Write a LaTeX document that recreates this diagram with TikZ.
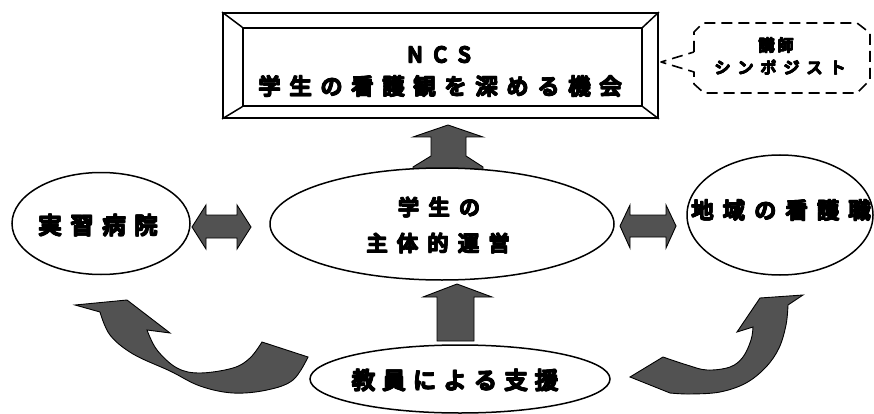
\documentclass[tikz,border=0pt]{standalone}
\usepackage{fontspec}
\newfontfamily\jp[FakeBold=4]{Noto Sans CJK JP}
\usetikzlibrary{shapes.geometric}
\newlength\chsp
\newlength\hvoff
\newsavebox\hvbox
\def\spacedtext#1{\sptfirst#1\relax}
\def\sptfirst#1{#1\sptnext}
\def\sptnext#1{\ifx#1\relax\else\hspace{\chsp}#1\expandafter\sptnext\fi}
\newcommand\heavy[1]{\sbox\hvbox{#1}%
  \rlap{\usebox\hvbox}\rlap{\hspace{\hvoff}\usebox\hvbox}%
  \rlap{\raisebox{\hvoff}{\usebox\hvbox}}\rlap{\hspace{0.5\hvoff}\raisebox{0.5\hvoff}{\usebox\hvbox}}%
  \hspace{\hvoff}\raisebox{\hvoff}{\usebox\hvbox}}
\newcommand\jptext[3]{\jp\fontsize{#1}{#1}\selectfont\setlength\chsp{#2}\setlength\hvoff{0.045em}\heavy{\spacedtext{#3}}}
\tikzset{
  ell/.style={draw, line width=1.5pt, ellipse, inner sep=0pt, fill=white},
  blk/.style={fill=black!68, draw=black, line width=0.9pt, line join=miter},
  lbl/.style={inner sep=0pt, text=black},
  bevel/.style={draw, line width=1.8pt, rectangle, inner sep=0pt},
  bubble/.style={draw, line width=1.6pt, dash pattern=on 11pt off 6pt, line join=round}
}
\begin{document}
\begin{tikzpicture}[x=1pt,y=-1pt]
\path[fill=white, use as bounding box] (0,0) rectangle (874,414);

% top box with bevel
\node (ncs) [bevel, fill=white, minimum width=435pt, minimum height=105pt] at (440.5,65.5) {};
\node (ncsin) [bevel, line width=1.5pt, minimum width=399pt, minimum height=78pt] at (442.5,67) {};
\draw[line width=1.5pt] (ncs.north west) -- (ncsin.north west)
  (ncs.south west) -- (ncsin.south west)
  (ncs.north east) -- (ncsin.north east)
  (ncs.south east) -- (ncsin.south east);
\node (ncsa) [lbl] at (439,54.5) {\jptext{21}{11pt}{NCS}};
\node (ncsb) [lbl] at (440,86) {\jptext{22}{9pt}{学生の看護観を深める機会}};

% dashed callout
\draw[bubble] (694,52) -- (694,32) -- (703,23) -- (857,23) -- (870,33) -- (870,80)
  -- (857,93) -- (704,93) -- (694,84) -- (694,72) -- (661,62) -- cycle;
\node (lect) [lbl] at (776,45) {\jptext{16}{3pt}{講師}};
\node (symp) [lbl] at (780,67) {\jptext{16}{7pt}{シンポジスト}};

% block arrows
\path[blk] (448,125) -- (483,137) -- (466,137) -- (466,156) -- (483,167) -- (483,176)
  -- (413,176) -- (413,167) -- (431,156) -- (431,137) -- (413,137) -- cycle;
\path[blk] (192,227) -- (206,205) -- (206,215) -- (237,215) -- (237,205) -- (251,227)
  -- (237,249) -- (237,238) -- (206,238) -- (206,249) -- cycle;
\path[blk] (620,226) -- (630,205) -- (630,215) -- (666,215) -- (666,205) -- (676,226)
  -- (666,248) -- (666,237) -- (630,237) -- (630,248) -- cycle;
\path[blk] (457,284) -- (492,297) -- (474,297) -- (474,341) -- (437,341) -- (437,297)
  -- (423,297) -- cycle;
% curved arrows
\path[blk] (75,305) -- (127,300) -- (170,333) -- (147,330)
  -- plot[smooth, tension=0.6] coordinates {(147,330) (157,350) (177,368) (200,373) (233,368) (250,358) (262,342)}
  -- (308,357)
  -- plot[smooth, tension=0.6] coordinates {(308,357) (293,380) (267,390) (233,393) (200,386) (170,371) (133,354) (110,335) (100,312)}
  -- cycle;
\path[blk] (630,377) -- (663,357)
  -- plot[smooth, tension=0.6] coordinates {(663,357) (687,365) (707,370) (730,367) (743,357) (751,340) (753,327)}
  -- (737,332) -- (760,298) -- (803,295) -- (788,305)
  -- plot[smooth, tension=0.6] coordinates {(788,305) (786,325) (779,348) (766,367) (746,383) (720,392) (690,394) (670,393)}
  -- cycle;

% ellipses
\node (stud) [ell, minimum width=344pt, minimum height=112pt] at (442,224) {};
\node (hosp) [ell, minimum width=178pt, minimum height=102pt] at (101,223.5) {};
\node (comm) [ell, minimum width=186pt, minimum height=120pt] at (780,215) {};
\node (fac) [ell, minimum width=300pt, minimum height=68pt] at (460,379) {};

\node (studa) [lbl] at (439,207) {\jptext{21}{9.5pt}{学生の}};
\node (studb) [lbl] at (438,243) {\jptext{21}{9.5pt}{主体的運営}};
\node (hospt) [lbl] at (98,225) {\jptext{23}{9pt}{実習病院}};
\node (commt) [lbl] at (781,210) {\jptext{22}{9.4pt}{地域の看護職}};
\node (fact) [lbl] at (455,380) {\jptext{23}{7.5pt}{教員による支援}};
\end{tikzpicture}
\end{document}
